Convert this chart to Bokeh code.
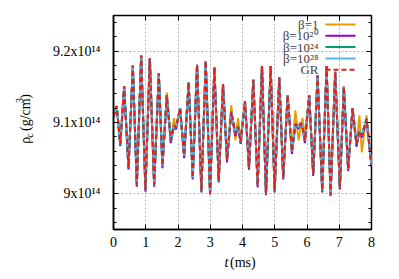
import numpy as np
from bokeh.plotting import figure
from bokeh.models import FixedTicker, LinearAxis, Range1d, ColumnDataSource, Label
from bokeh.layouts import row, column
from bokeh.core.properties import value
from bokeh.embed import file_html
from bokeh.resources import INLINE

# ---------------- data (rho_c in units of 1e14 g/cm^3, t in ms) ----------------
t_ms = [0.00, 0.10, 0.21, 0.33, 0.465, 0.60, 0.723, 0.858, 0.99, 1.126,
        1.26, 1.405, 1.517, 1.653, 1.777, 1.875, 1.935, 2.065, 2.19, 2.33,
        2.457, 2.591, 2.725, 2.86, 2.994, 3.128, 3.263, 3.396, 3.52, 3.65,
        3.78, 3.86, 3.944, 4.077, 4.201, 4.335, 4.47, 4.604, 4.728, 4.873,
        4.997, 5.14, 5.263, 5.399, 5.533, 5.64, 5.735, 5.80, 5.86, 5.935,
        6.069, 6.192, 6.328, 6.471, 6.607, 6.731, 6.874, 7.019, 7.142, 7.276,
        7.412, 7.536, 7.625, 7.70, 7.845, 8.00]

rho_gr = [9.108, 9.123, 9.070, 9.151, 9.037, 9.180, 9.013, 9.194, 9.006, 9.190,
          9.013, 9.169, 9.040, 9.138, 9.075, 9.096, 9.093, 9.120, 9.054, 9.156,
          9.023, 9.181, 9.005, 9.186, 9.001, 9.177, 9.019, 9.154, 9.048, 9.115,
          9.085, 9.094, 9.073, 9.130, 9.037, 9.160, 9.012, 9.179, 9.000, 9.179,
          9.005, 9.163, 9.023, 9.138, 9.060, 9.098, 9.094, 9.099, 9.096, 9.075,
          9.138, 9.028, 9.166, 9.005, 9.179, 8.999, 9.171, 9.009, 9.150, 9.035,
          9.120, 9.070, 9.088, 9.082, 9.105, 9.040]

rho_b28 = [9.108, 9.123, 9.070, 9.151, 9.037, 9.180, 9.013, 9.194, 9.006, 9.190,
           9.013, 9.169, 9.040, 9.138, 9.075, 9.096, 9.093, 9.120, 9.054, 9.156,
           9.023, 9.181, 9.005, 9.186, 9.001, 9.177, 9.019, 9.154, 9.048, 9.115,
           9.085, 9.094, 9.073, 9.130, 9.037, 9.160, 9.012, 9.179, 9.000, 9.179,
           9.005, 9.163, 9.023, 9.138, 9.060, 9.098, 9.094, 9.099, 9.096, 9.075,
           9.138, 9.028, 9.166, 9.005, 9.179, 8.999, 9.171, 9.009, 9.150, 9.035,
           9.120, 9.070, 9.088, 9.082, 9.105, 9.040]

rho_b24 = [9.108, 9.123, 9.069, 9.151, 9.036, 9.180, 9.012, 9.194, 9.005, 9.190,
           9.012, 9.169, 9.039, 9.138, 9.074, 9.096, 9.092, 9.120, 9.053, 9.156,
           9.022, 9.181, 9.004, 9.186, 9.000, 9.177, 9.018, 9.154, 9.047, 9.115,
           9.084, 9.094, 9.072, 9.130, 9.036, 9.160, 9.011, 9.179, 8.999, 9.179,
           9.004, 9.163, 9.022, 9.138, 9.059, 9.098, 9.093, 9.099, 9.095, 9.074,
           9.138, 9.027, 9.166, 9.004, 9.179, 8.998, 9.171, 9.008, 9.150, 9.034,
           9.120, 9.069, 9.088, 9.081, 9.105, 9.040]

rho_b20 = [9.107, 9.122, 9.067, 9.150, 9.034, 9.180, 9.010, 9.194, 9.003, 9.190,
           9.010, 9.169, 9.036, 9.138, 9.071, 9.095, 9.090, 9.120, 9.050, 9.156,
           9.020, 9.181, 9.002, 9.186, 8.999, 9.177, 9.016, 9.154, 9.044, 9.114,
           9.081, 9.093, 9.070, 9.130, 9.034, 9.160, 9.009, 9.179, 8.998, 9.179,
           9.002, 9.163, 9.020, 9.138, 9.056, 9.097, 9.091, 9.098, 9.093, 9.071,
           9.138, 9.025, 9.166, 9.002, 9.179, 8.997, 9.171, 9.006, 9.150, 9.032,
           9.120, 9.066, 9.087, 9.079, 9.104, 9.038]

rho_b1 = [9.108, 9.123, 9.070, 9.151, 9.037, 9.180, 9.013, 9.194, 9.006, 9.190,
          9.013, 9.169, 9.040, 9.142, 9.073, 9.106, 9.090, 9.120, 9.054, 9.156,
          9.023, 9.181, 9.005, 9.186, 9.001, 9.177, 9.019, 9.154, 9.048, 9.124,
          9.075, 9.106, 9.076, 9.130, 9.037, 9.160, 9.012, 9.179, 9.000, 9.179,
          9.005, 9.163, 9.023, 9.138, 9.058, 9.117, 9.075, 9.091, 9.106, 9.080,
          9.138, 9.028, 9.166, 9.005, 9.179, 8.999, 9.171, 9.009, 9.150, 9.035,
          9.120, 9.068, 9.110, 9.058, 9.110, 9.040]

x_ticks = [0, 1, 2, 3, 4, 5, 6, 7, 8]
y_ticks = [9.0, 9.1, 9.2]
y_tick_labels = ["9x10\u00b9\u2074", "9.1x10\u00b9\u2074", "9.2x10\u00b9\u2074"]
series_labels = ["\u03b2=1", "\u03b2=10\u00b2\u2070", "\u03b2=10\u00b2\u2074",
                 "\u03b2=10\u00b2\u2078", "GR"]
series_values = [rho_b1, rho_b20, rho_b24, rho_b28, rho_gr]
series_colors = ["#E69F00", "#9400D3", "#009E73", "#56B4E9", "#E51E10"]
series_dash = ["solid", "solid", "solid", "solid", "5 3"]

# ---------------- layout constants (page pixel coords) ----------------
W, HT = 399, 279
LW = 40            # width of left strip holding the y-axis title
H = 252            # height of the row (main plot)
FX0, FX1, FY0, FY1 = 113, 371, 15, 229
XMIN, XMAX, YMIN, YMAX = 0.0, 8.0, 8.95, 9.25
FONT = "Liberation Serif"


def dx(xs):
    return XMIN + (xs - FX0) / (FX1 - FX0) * (XMAX - XMIN)


def dy(ys):
    return YMAX - (ys - FY0) / (FY1 - FY0) * (YMAX - YMIN)


def blank(w, h, yr):
    f = figure(width=w, height=h, x_range=Range1d(0, w), y_range=yr,
               output_backend="svg", toolbar_location=None, min_border=0,
               x_axis_type=None, y_axis_type=None)
    f.outline_line_color = None
    f.background_fill_color = "white"
    f.border_fill_color = "white"
    return f


# ---------------- main plot ----------------
p = figure(frame_width=FX1 - FX0, frame_height=FY1 - FY0,
           x_range=Range1d(XMIN, XMAX), y_range=Range1d(YMIN, YMAX),
           output_backend="svg", toolbar_location=None,
           min_border_left=FX0 - LW, min_border_right=W - FX1,
           min_border_top=FY0, min_border_bottom=H - FY1)
p.background_fill_color = "white"
p.border_fill_color = "white"
p.outline_line_color = "black"
p.outline_line_width = 1.5

minor_y = [round(v, 2) for v in np.arange(8.96, 9.25, 0.02)]

for ax in (p.xaxis[0], p.yaxis[0]):
    ax.major_tick_in = 5
    ax.major_tick_out = 0
    ax.minor_tick_in = 3
    ax.minor_tick_out = 0
    ax.axis_line_color = "black"
    ax.axis_line_width = 1.5
    ax.major_tick_line_color = "black"
    ax.minor_tick_line_color = "black"
    ax.major_label_text_font = FONT
    ax.major_label_text_font_size = "14px"
    ax.major_label_text_color = "black"

p.xaxis.ticker = FixedTicker(ticks=x_ticks, minor_ticks=[])
p.xaxis.major_label_standoff = 7
p.yaxis.ticker = FixedTicker(ticks=y_ticks, minor_ticks=minor_y)
p.yaxis.major_label_overrides = dict(zip(y_ticks, y_tick_labels))
p.yaxis.major_label_standoff = 13

# mirror axes (ticks only, no labels drawn)
top = LinearAxis(ticker=FixedTicker(ticks=x_ticks, minor_ticks=[]),
                 major_label_text_font_size="1px", major_label_text_color=None,
                 major_label_text_alpha=0, major_label_standoff=0,
                 major_tick_in=5, major_tick_out=0, minor_tick_in=0, minor_tick_out=0,
                 axis_line_color=None)
right = LinearAxis(ticker=FixedTicker(ticks=y_ticks, minor_ticks=minor_y),
                   major_label_text_font_size="1px", major_label_text_color=None,
                   major_label_text_alpha=0, major_label_standoff=0,
                   major_tick_in=5, major_tick_out=0, minor_tick_in=3, minor_tick_out=0,
                   axis_line_color=None)
p.add_layout(top, "above")
p.add_layout(right, "right")

for g in (p.xgrid[0], p.ygrid[0]):
    g.grid_line_color = "#b8b8b8"
    g.grid_line_dash = "2 2"
    g.grid_line_width = 1

for vals, col, dash in zip(series_values, series_colors, series_dash):
    p.line(t_ms, vals, line_color=col, line_width=2, line_dash=dash)

# legend (text right-aligned, sample line to the right)
rows = [24, 35.3, 46.6, 57.9, 69.2]
for lab, col, dash, ys in zip(series_labels, series_colors, series_dash, rows):
    p.add_layout(Label(x=dx(318), y=dy(ys), text=lab, text_font=FONT,
                       text_font_size="13px", text_align="right", text_baseline="middle"))
    p.line([dx(325), dx(355)], [dy(ys), dy(ys)], line_color=col, line_width=2,
           line_dash=dash)

# ---------------- left strip: y-axis title rho_c (g/cm^3) ----------------
L = blank(LW, H, Range1d(H, 0))
ysrc = ColumnDataSource(dict(
    x=[25, 29, 25, 19, 25],
    y=[151.0, 144.0, 136.0, 103.0, 98.0],
    text=["\u03c1", "c", "(g/cm", "3", ")"],
    fs=["14px", "10px", "14px", "10px", "14px"]))
L.text(x="x", y="y", text="text", source=ysrc, angle=np.pi / 2,
       text_font=value(FONT), text_font_size="fs", text_color="black",
       text_align="left", text_baseline="alphabetic")

# ---------------- bottom strip: x-axis title t (ms) ----------------
B = blank(W, HT - H, Range1d(HT, H))
xsrc = ColumnDataSource(dict(x=[224, 229.5], y=[262, 262], text=["t", "(ms)"],
                             style=["italic", "normal"]))
B.text(x="x", y="y", text="text", source=xsrc, text_font=value(FONT),
       text_font_style="style", text_font_size=value("14px"), text_color="black",
       text_align="left", text_baseline="alphabetic")

layout = column(row(L, p, spacing=0), B, spacing=0)
open("out.html", "w").write(file_html(layout, INLINE))
